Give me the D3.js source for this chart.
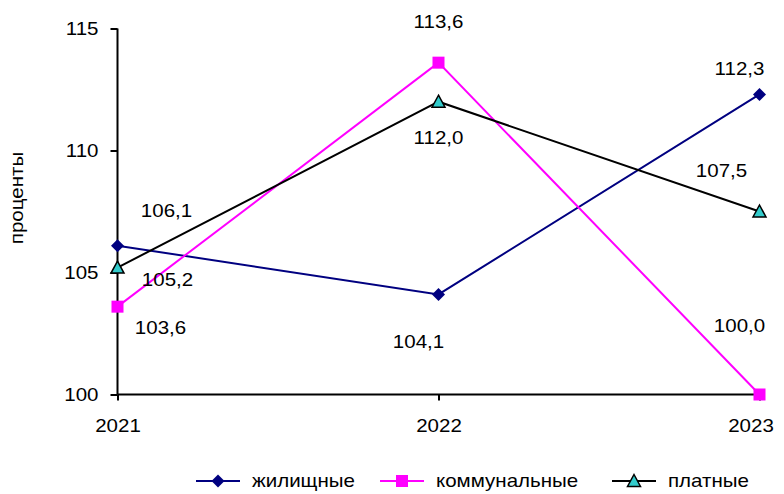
<!DOCTYPE html>
<html><head><meta charset="utf-8">
<script src="https://cdn.jsdelivr.net/npm/d3@7"></script>
<style>body{margin:0;background:#fff}svg{display:block}text{font-family:"Liberation Sans",Arial,sans-serif}</style>
</head><body><svg id="c" width="784" height="494"></svg>
<script>
const years = ["2021","2022","2023"];
const seriesNames = ["жилищные","коммунальные","платные"];
const housing = [106.1, 104.1, 112.3];
const communal = [103.6, 113.6, 100.0];
const paid = [105.2, 112.0, 107.5];
const yTicks = [100, 105, 110, 115];
const yLabel = "проценты";

const colors = ["#000080", "#FF00FF", "#000000"];
const markers = ["diamond", "square", "triangle"];
const FS = 18, SX = 1.14;
// label offsets (dx, dy) per series per point
const labelOffsets = [
  [[49,-35],[-20,47],[-20,-26]],
  [[43,21],[0,-41],[-20,-69]],
  [[50,12],[0,36],[-38,-41]]
];

const svg = d3.select("#c");
const x = d3.scalePoint().domain(years).range([117.5, 759.5]);
const y = d3.scaleLinear().domain([100, 115]).range([394.5, 28.5]);

function txt(g, tx, ty, s, anchor, size){
  return g.append("text").attr("transform",`translate(${tx},${ty}) scale(${SX},1)`)
    .attr("dy","0.35em").attr("text-anchor",anchor||"middle")
    .attr("font-size",size||FS).attr("fill","#000").text(s);
}

// axes
const yAx = svg.append("g").attr("transform","translate(117.5,0)")
  .call(d3.axisLeft(y).tickValues(yTicks).tickSize(7).tickFormat(d3.format("d")));
const xAx = svg.append("g").attr("transform","translate(0,394.5)")
  .call(d3.axisBottom(x).tickSize(6));
[yAx,xAx].forEach(g=>{
  g.select(".domain").attr("stroke","#000").attr("stroke-width",2);
  g.selectAll(".tick line").attr("stroke","#000").attr("stroke-width",2);
  g.selectAll(".tick text").attr("fill","#000").attr("font-size",FS).attr("font-family","Liberation Sans, Arial, sans-serif");
});
yAx.selectAll(".tick text").attr("x",null).attr("dy","0.35em")
  .attr("transform",`translate(-19,0) scale(${SX},1)`);
xAx.selectAll(".tick text").attr("y",null).attr("dy","0.35em")
  .attr("transform",(d,i)=>`translate(${i===years.length-1?-9:0},31) scale(${SX},1)`);
yAx.select(".domain").attr("d","M0,28.5V394.5");
xAx.select(".domain").attr("d","M117.5,0H759.5");

svg.append("text").attr("transform",`translate(17,198) rotate(-90) scale(${SX},1)`)
  .attr("dy","0.35em").attr("text-anchor","middle").attr("font-size",18).text(yLabel);

const data = [housing, communal, paid];
const line = d3.line().x((d,i)=>x(years[i])).y(d=>y(d));

function drawMarker(g, type, cx, cy, color){
  if(type==="diamond"){
    g.append("path").attr("d",`M${cx},${cy-6.5}L${cx+6.5},${cy}L${cx},${cy+6.5}L${cx-6.5},${cy}Z`).attr("fill",color);
  } else if(type==="square"){
    g.append("rect").attr("x",cx-6).attr("y",cy-6).attr("width",12).attr("height",12).attr("fill",color);
  } else {
    g.append("path").attr("d",`M${cx},${cy-6.5}L${cx+6.5},${cy+5.5}L${cx-6.5},${cy+5.5}Z`).attr("fill","#33CCCC").attr("stroke","#000").attr("stroke-width",1.5);
  }
}

data.forEach((vals,s)=>{
  const g = svg.append("g");
  g.append("path").datum(vals).attr("d",line).attr("fill","none").attr("stroke",colors[s]).attr("stroke-width",2);
  vals.forEach((v,i)=>drawMarker(g, markers[s], x(years[i]), y(v), colors[s]));
});
data.forEach((vals,s)=>{
  vals.forEach((v,i)=>{
    const [dx,dy] = labelOffsets[s][i];
    txt(svg, x(years[i])+dx, y(v)+dy, v.toFixed(1).replace(".",","));
  });
});

// legend
const legX = [196, 380, 612];
const legY = 481;
seriesNames.forEach((n,s)=>{
  const g = svg.append("g");
  g.append("line").attr("x1",legX[s]).attr("x2",legX[s]+44).attr("y1",legY).attr("y2",legY).attr("stroke",colors[s]).attr("stroke-width",2);
  drawMarker(g, markers[s], legX[s]+22, legY, colors[s]);
  txt(g, legX[s]+56, legY, n, "start");
});
</script></body></html>
